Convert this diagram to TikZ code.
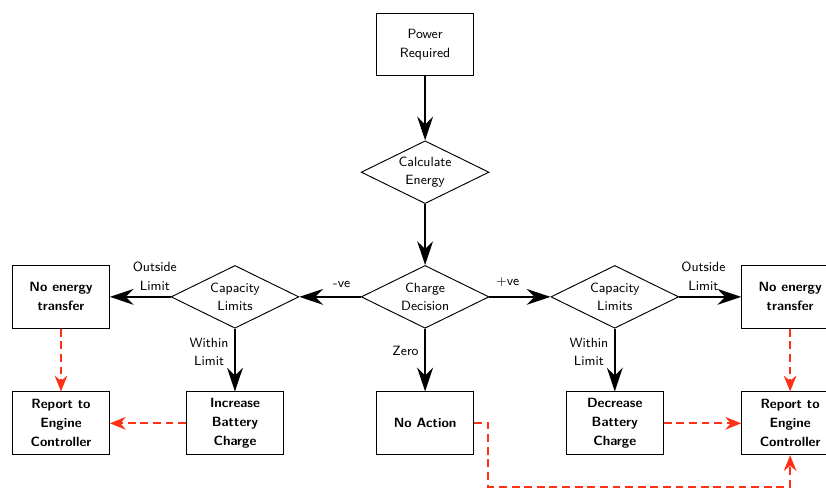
\documentclass[tikz,border=0pt]{standalone}
\usepackage{tikz}
\usetikzlibrary{arrows.meta,calc,positioning,shapes.geometric}
\definecolor{rptred}{RGB}{255,48,24}

\begin{document}
\begin{tikzpicture}[
  font=\sffamily\fontsize{8.5}{12}\selectfont,
  >=Stealth,
  proc/.style={draw,semithick,rectangle,minimum width=2.16cm,minimum height=1.40cm,
               align=center},
  act/.style ={draw,semithick,rectangle,minimum width=2.16cm,minimum height=1.40cm,
               align=center,font=\sffamily\bfseries\fontsize{8.5}{12}\selectfont},
  dec/.style ={draw,semithick,diamond,aspect=2,minimum width=2.85cm,minimum height=1.40cm,
               inner sep=0pt,align=center},
  flow/.style={-{Stealth[length=15pt,width=10pt]},ultra thick},
  rpt/.style ={-{Stealth[length=10pt,width=8pt]},very thick,rptred,
               dash pattern=on 5pt off 3pt},
  lbl/.style ={align=center},
]
\useasboundingbox (0,0) rectangle (18.42,-10.88);

%% =====================================================
%%  Centre column
%% =====================================================
\node[proc] (pwr)   at (9.48,-0.99) {Power\\Required};
\node[dec]  (calc)  at (9.48,-3.84) {Calculate\\Energy};
\node[dec]  (chg)   at (9.48,-6.62) {Charge\\Decision};
\node[act]  (noact) at (9.48,-9.44) {No Action};

\draw[flow] (pwr.south)  -- (calc.north);
\draw[flow] (calc.south) -- (chg.north);
\draw[flow] (chg.south)  -- node[lbl,left,pos=0.36]{Zero} (noact.north);

%% =====================================================
%%  Negative branch (left)
%% =====================================================
\node[dec] (capL)  at (5.24,-6.62) {Capacity\\Limits};
\node[act] (noneL) at (1.36,-6.62) {No energy\\transfer};
\node[act] (incB)  at (5.24,-9.44) {Increase\\Battery\\Charge};
\node[act] (repL)  at (1.36,-9.44) {Report to\\Engine\\Controller};

\draw[flow] (chg.west)   -- node[lbl,above,pos=0.31,yshift=2pt]{-ve} (capL.east);
\draw[flow] (capL.west)  -- node[lbl,above,pos=0.26]{Outside\\Limit} (noneL.east);
\draw[flow] (capL.south) -- node[lbl,left,pos=0.37]{Within\\Limit} (incB.north);

%% =====================================================
%%  Positive branch (right)
%% =====================================================
\node[dec] (capR)  at (13.71,-6.62) {Capacity\\Limits};
\node[act] (noneR) at (17.62,-6.62) {No energy\\transfer};
\node[act] (decB)  at (13.71,-9.44) {Decrease\\Battery\\Charge};
\node[act] (repR)  at (17.62,-9.44) {Report to\\Engine\\Controller};

\draw[flow] (chg.east)   -- node[lbl,above,pos=0.3,yshift=2pt]{+ve} (capR.west);
\draw[flow] (capR.east)  -- node[lbl,above,pos=0.39]{Outside\\Limit} (noneR.west);
\draw[flow] (capR.south) -- node[lbl,left,pos=0.37]{Within\\Limit} (decB.north);

%% =====================================================
%%  Reporting (dashed)
%% =====================================================
\draw[rpt] (noneL.south) -- (repL.north);
\draw[rpt] (incB.west)   -- (repL.east);
\draw[rpt] (noneR.south) -- (repR.north);
\draw[rpt] (decB.east)   -- (repR.west);

\coordinate (route) at ($(repR.south)+(0,-0.70)$);
\draw[rpt] (noact.east) -- ++(0.32,0) |- (route) -- (repR.south);

\end{tikzpicture}
\end{document}
